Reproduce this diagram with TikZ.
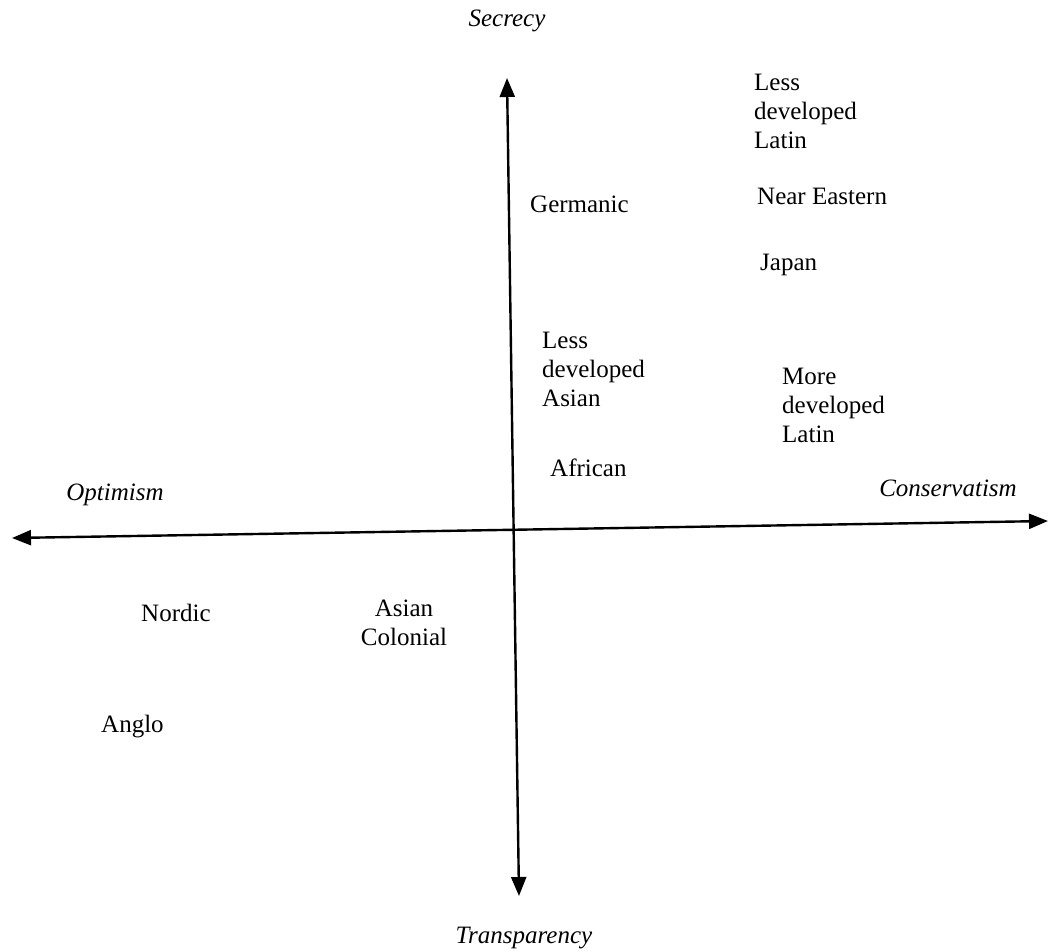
\documentclass[tikz,border=0pt]{standalone}
\usepackage{fontspec}
\setmainfont{Liberation Serif}
\usetikzlibrary{arrows.meta}

\begin{document}
\begin{tikzpicture}[x=1pt,y=-1pt,
    every node/.style={font=\fontsize{25}{29}\selectfont, inner sep=0pt},
    group/.style={anchor=west, align=left},
    pole/.style={font=\fontsize{25}{29}\selectfont\itshape},
    axis/.style={line width=2.4pt, {Triangle[length=19pt,width=15pt]}-{Triangle[length=19pt,width=15pt]}}]
                    \useasboundingbox (0,0) rectangle (1050,952);
                    \coordinate (T) at (507,	78);
                    \coordinate (B) at (519,	896);
                    \coordinate (L) at (12,	538);
                    \coordinate (R) at (1048,	521);
                    \node[pole] (secrecy) at (507,	21) {Secrecy};
                    \node[pole] (transparency) at (524,	938) {Transparency};
                    \node[pole] (optimism) at (115,	495) {Optimism};
                    \node[pole] (conservatism) at (948,	488) {Conservatism};
                    \node[group] (ldlatin) at (754,	111) {Less\\developed\\Latin};
                    \node[group] (neareast) at (757,	196) {Near Eastern};
                    \node[group] (japan) at (760,	265) {Japan};
                    \node[group] (germanic) at (530,	204) {Germanic};
                    \node[group] (ldasian) at (542,	369) {Less\\developed\\Asian};
                    \node[group] (mdlatin) at (782,	405) {More\\developed\\Latin};
                    \node[group] (african) at (550,	468) {African};
                    \node[group] (nordic) at (141,	613) {Nordic};
                    \node[align=center] (ascolonial) at (404,	623) {Asian\\Colonial};
                    \node[group] (anglo) at (101,	727) {Anglo};
                    \path[axis]
                    (B) edge (T)
                    (L) edge (R);
                    \end{tikzpicture}
\end{document}
